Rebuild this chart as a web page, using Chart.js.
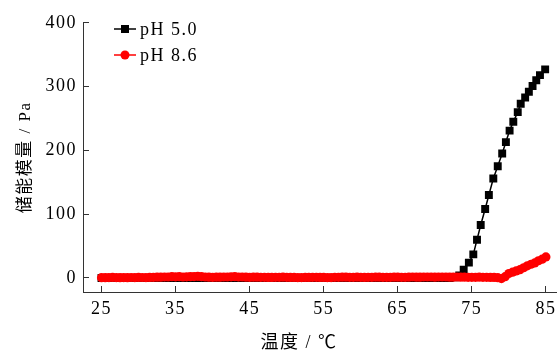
<!DOCTYPE html>
<html>
<head>
<meta charset="utf-8">
<script src="https://cdn.jsdelivr.net/npm/chart.js@4.4.0/dist/chart.umd.min.js"></script>
<style>
html, body { margin: 0; padding: 0; background: #fff; }
#wrap { position: relative; width: 557px; height: 352px; }
</style>
</head>
<body>
<div id="wrap"><canvas id="modulusChart"></canvas></div>
<script>
const xTicks = [25, 35, 45, 55, 65, 75, 85];
const yTicks = [0, 100, 200, 300, 400];

// pH 5.0
const ph50Temp = [
    25, 26, 27, 28, 29, 30, 31, 32, 33, 34, 35, 36, 37, 38, 39, 40,
    41, 42, 43, 44, 45, 46, 47, 48, 49, 50, 51, 52, 53, 54, 55, 56,
    57, 58, 59, 60, 61, 62, 63, 64, 65, 66, 67, 68, 69, 70, 71, 72,
    72.8, 73.3, 73.9, 74.6, 75.2, 75.7, 76.2, 76.8, 77.3, 77.9, 78.5, 79.1,
    79.6, 80.1, 80.6, 81.2, 81.6, 82.2, 82.7, 83.2, 83.7, 84.2, 84.9,
];
const ph50Modulus = [
    0, 0, 0, 0, 0, 0, 0, 0, 0, 0, 0, 0, 0, 0, 0, 0,
    0, 0, 0, 0, 0, 0, 0, 0, 0, 0, 0, 0, 0, 0, 0, 0,
    0, 0, 0, 0, 0, 0, 0, 0, 0, 0, 0, 0, 0, 0, 0, 0,
    1, 4, 13, 24, 37, 60, 83, 108, 130, 156, 175, 195,
    213, 231, 245, 260, 273, 283, 292, 301, 310, 318, 327,
];

// pH 8.6
const ph86Temp = [
    25, 25.5, 26, 26.5, 27, 27.5, 28, 28.5, 29, 29.5, 30, 30.5, 31, 31.5, 32, 32.5,
    33, 33.5, 34, 34.5, 35, 35.5, 36, 36.5, 37, 37.5, 38, 38.5, 39, 39.5, 40, 40.5,
    41, 41.5, 42, 42.5, 43, 43.5, 44, 44.5, 45, 45.5, 46, 46.5, 47, 47.5, 48, 48.5,
    49, 49.5, 50, 50.5, 51, 51.5, 52, 52.5, 53, 53.5, 54, 54.5, 55, 55.5, 56, 56.5,
    57, 57.5, 58, 58.5, 59, 59.5, 60, 60.5, 61, 61.5, 62, 62.5, 63, 63.5, 64, 64.5,
    65, 65.5, 66, 66.5, 67, 67.5, 68, 68.5, 69, 69.5, 70, 70.5, 71, 71.5, 72, 72.5,
    73, 73.5, 74, 74.5, 75, 75.5, 76, 76.5, 77, 77.5, 78, 78.5, 79, 79.5, 80, 80.5,
    81, 81.5, 82, 82.5, 83, 83.5, 84, 84.5, 85,
];
const ph86Modulus = [
    0.5, 0.5, 0.6, 0.8, 0.6, 0.5, 0.6, 0.5, 0.7, 0.6, 0.8, 0.7, 0.6, 0.8, 1, 1.2,
    1.2, 1.5, 1.5, 2, 1.8, 2, 1.5, 1.8, 2, 2.2, 2.5, 2, 1.5, 1.2, 1, 1.2,
    1.2, 1.5, 1.5, 1.8, 2, 1.5, 1.5, 1.2, 1, 1.2, 1.2, 1, 1, 0.8, 0.8, 1,
    1, 1.2, 1, 0.8, 0.8, 0.6, 0.6, 0.8, 0.8, 1, 1, 0.8, 0.8, 0.6, 0.6, 1,
    1, 1.2, 1.2, 1, 1, 1.2, 1, 0.8, 1, 1, 1.2, 1.2, 1, 1, 1, 1.2,
    1.2, 1, 1, 1.2, 1.5, 1.2, 1.2, 1.5, 1.5, 1.5, 1.2, 1.5, 1.5, 1.5, 1.2, 1.2,
    1.5, 1.2, 1.2, 1, 1, 1, 1.2, 1, 1, 0.8, 0.8, 0.5, -1, 2, 7, 9,
    11, 13, 16, 19, 21.5, 23.5, 27, 29.5, 33,
];

const ph50Points = ph50Temp.map((t, i) => ({ x: t, y: ph50Modulus[i] }));
const ph86Points = ph86Temp.map((t, i) => ({ x: t, y: ph86Modulus[i] }));

const numFont = '"Liberation Serif", "Times New Roman", serif';
const titleFont = '"Liberation Serif", "Noto Sans CJK SC", serif';

// the paper figure uses a slightly wide serif, so open the text up a bit
const wideText = {
    id: 'wideText',
    beforeDraw(chart) {
        chart.ctx.letterSpacing = '1.5px';
    },
    afterDraw(chart) {
        chart.ctx.letterSpacing = '0px';
    }
};

// legend drawn inside the plot area, line + marker like the paper figure
const insideLegend = {
    id: 'insideLegend',
    afterDraw(chart) {
        const ctx = chart.ctx;
        ctx.save();
        ctx.letterSpacing = '1.5px';
        chart.data.datasets.forEach((ds, i) => {
            const y = 29 + i * 26;
            ctx.strokeStyle = ds.borderColor;
            ctx.lineWidth = 1.5;
            ctx.beginPath();
            ctx.moveTo(114, y);
            ctx.lineTo(136, y);
            ctx.stroke();
            ctx.fillStyle = ds.pointBackgroundColor;
            if (ds.pointStyle === 'rect') {
                ctx.fillRect(125 - 4, y - 4, 8, 8);
            } else {
                ctx.beginPath();
                ctx.arc(125, y, 4.5, 0, Math.PI * 2);
                ctx.fill();
            }
            ctx.fillStyle = '#000';
            ctx.font = '18px ' + numFont;
            ctx.textAlign = 'left';
            ctx.textBaseline = 'middle';
            ctx.fillText(ds.label, 140, y + 1);
        });
        // x axis title
        ctx.font = '18px ' + titleFont;
        ctx.textAlign = 'center';
        ctx.textBaseline = 'middle';
        ctx.fillStyle = '#000';
        ctx.fillText('温度 / ℃', 299, 343);
        ctx.restore();
    }
};

new Chart(document.getElementById('modulusChart'), {
    type: 'line',
    data: {
        datasets: [{
            label: 'pH 5.0',
            data: ph50Points,
            borderColor: '#000',
            backgroundColor: '#000',
            pointBackgroundColor: '#000',
            pointBorderWidth: 0,
            pointStyle: 'rect',
            pointRadius: 5.6,
            borderWidth: 1.5,
            order: 2,
        }, {
            label: 'pH 8.6',
            data: ph86Points,
            borderColor: '#ff0000',
            backgroundColor: '#ff0000',
            pointBackgroundColor: '#ff0000',
            pointBorderWidth: 0,
            pointStyle: 'circle',
            pointRadius: 4.6,
            borderWidth: 1.5,
            order: 1,
        }]
    },
    options: {
        responsive: true,
        maintainAspectRatio: false,
        animation: false,
        layout: {
            autoPadding: false,
            padding: { top: 22, right: 0, bottom: 0, left: 0 }
        },
        plugins: {
            legend: { display: false },
            tooltip: { enabled: false },
        },
        scales: {
            x: {
                type: 'linear',
                min: 22.5,
                max: 86.5,
                afterBuildTicks: scale => { scale.ticks = xTicks.map(v => ({ value: v })); },
                afterFit: scale => {
                    scale.height = 60;
                    scale.paddingLeft = 0;
                    scale.paddingRight = 0;
                },
                border: { color: '#333', width: 1 },
                grid: { drawOnChartArea: false, color: '#333', tickLength: -6 },
                ticks: {
                    color: '#000',
                    padding: 12,
                    maxRotation: 0,
                    font: { family: numFont, size: 18 },
                },
            },
            y: {
                min: -22,
                max: 400,
                afterBuildTicks: scale => { scale.ticks = yTicks.map(v => ({ value: v })); },
                afterFit: scale => { scale.width = 83; },
                border: { color: '#333', width: 1 },
                grid: { drawOnChartArea: false, color: '#333', tickLength: -6 },
                ticks: {
                    color: '#000',
                    padding: 12,
                    font: { family: numFont, size: 18 },
                },
                title: {
                    display: true,
                    text: '储能模量 / Pa',
                    color: '#000',
                    font: { family: titleFont, size: 17 },
                    padding: { top: 15, bottom: 0 },
                },
            },
        },
    },
    plugins: [wideText, insideLegend],
});
</script>
</body>
</html>
